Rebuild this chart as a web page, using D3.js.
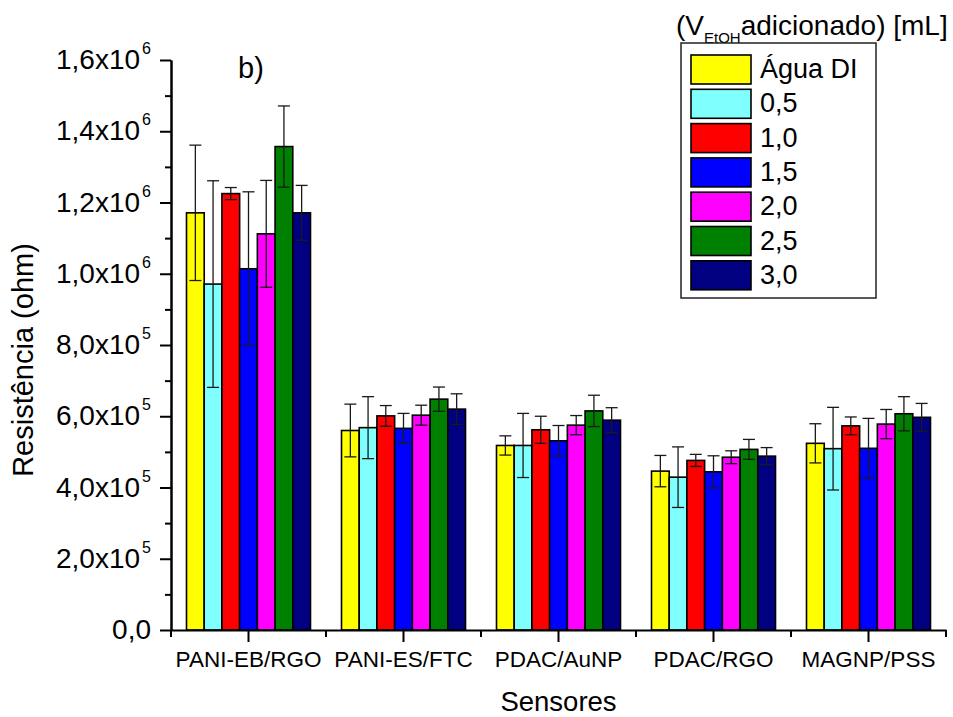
<!DOCTYPE html>
<html>
<head>
<meta charset="utf-8">
<script src="https://cdn.jsdelivr.net/npm/d3@7/dist/d3.min.js"></script>
<style>
  html, body { margin: 0; padding: 0; background: #fff; }
  svg, svg text { font-family: Arial, "Liberation Sans", Helvetica, sans-serif; }
  svg { display: block; }
</style>
</head>
<body>
<svg id="chart" width="953" height="717"></svg>
<script>
// Sensor groups on the x axis
const sensors = ["PANI-EB/RGO", "PANI-ES/FTC", "PDAC/AuNP", "PDAC/RGO", "MAGNP/PSS"];

// Added ethanol volume (legend entries)
const volumes = ["Água DI", "0,5", "1,0", "1,5", "2,0", "2,5", "3,0"];
const volumeColors = ["#ffff00", "#80ffff", "#ff0000", "#0000ff", "#ff00ff", "#008000", "#000080"];

// Mean resistance (ohm) per sensor, one array per volume
const aguaDI = [1.171e6, 0.560e6, 0.518e6, 0.446e6, 0.524e6];
const v05    = [0.971e6, 0.568e6, 0.518e6, 0.429e6, 0.509e6];
const v10    = [1.225e6, 0.601e6, 0.562e6, 0.476e6, 0.573e6];
const v15    = [1.014e6, 0.566e6, 0.531e6, 0.444e6, 0.510e6];
const v20    = [1.112e6, 0.603e6, 0.575e6, 0.485e6, 0.578e6];
const v25    = [1.357e6, 0.648e6, 0.615e6, 0.507e6, 0.607e6];
const v30    = [1.171e6, 0.620e6, 0.589e6, 0.488e6, 0.597e6];

// Standard deviation (ohm) per sensor, one array per volume
const aguaDIErr = [0.190e6, 0.074e6, 0.027e6, 0.044e6, 0.055e6];
const v05Err    = [0.290e6, 0.087e6, 0.090e6, 0.085e6, 0.116e6];
const v10Err    = [0.017e6, 0.029e6, 0.038e6, 0.017e6, 0.025e6];
const v15Err    = [0.216e6, 0.042e6, 0.043e6, 0.045e6, 0.084e6];
const v20Err    = [0.150e6, 0.028e6, 0.027e6, 0.018e6, 0.041e6];
const v25Err    = [0.114e6, 0.034e6, 0.044e6, 0.028e6, 0.048e6];
const v30Err    = [0.077e6, 0.043e6, 0.035e6, 0.024e6, 0.039e6];

// Y axis ticks (major labelled, minor unlabelled)
const yMajorTicks = [0, 2e5, 4e5, 6e5, 8e5, 1.0e6, 1.2e6, 1.4e6, 1.6e6];
const yMinorTicks = [1e5, 3e5, 5e5, 7e5, 9e5, 1.1e6, 1.3e6, 1.5e6];

const seriesValues = [aguaDI, v05, v10, v15, v20, v25, v30];
const seriesErrors = [aguaDIErr, v05Err, v10Err, v15Err, v20Err, v25Err, v30Err];

const rows = [];
sensors.forEach((s, i) => {
  volumes.forEach((v, j) => {
    rows.push({ sensor: s, volume: v, value: seriesValues[j][i], err: seriesErrors[j][i], color: volumeColors[j] });
  });
});

const svg = d3.select("#chart").attr("font-family", "Arial, 'Liberation Sans', Helvetica, sans-serif");
const plotLeft = 171, plotRight = 946, plotTop = 60, plotBottom = 630;

const x0 = d3.scaleBand().domain(sensors).range([plotLeft, plotRight]).padding(0);
const bw = x0.bandwidth();
const x1 = d3.scaleBand().domain(volumes).range([bw * 0.1, bw * 0.9]).padding(0);
const y = d3.scaleLinear().domain([0, 1.6e6]).range([plotBottom, plotTop]);

// Bars
const g = svg.append("g");
g.selectAll("rect.bar").data(rows).join("rect")
  .attr("class", "bar")
  .attr("x", d => x0(d.sensor) + x1(d.volume))
  .attr("y", d => y(d.value))
  .attr("width", x1.bandwidth())
  .attr("height", d => y(0) - y(d.value))
  .attr("fill", d => d.color)
  .attr("stroke", "#000")
  .attr("stroke-width", 1.6);

// Error bars
const capW = 12;
const cx = d => x0(d.sensor) + x1(d.volume) + x1.bandwidth() / 2;
const eb = g.selectAll("g.err").data(rows).join("g").attr("class", "err")
  .attr("stroke", "#1a1a1a").attr("stroke-width", 1.3);
eb.append("line")
  .attr("x1", cx).attr("x2", cx)
  .attr("y1", d => y(d.value + d.err))
  .attr("y2", d => y(d.value - d.err));
eb.append("line")
  .attr("x1", d => cx(d) - capW / 2).attr("x2", d => cx(d) + capW / 2)
  .attr("y1", d => y(d.value + d.err)).attr("y2", d => y(d.value + d.err));
eb.append("line")
  .attr("x1", d => cx(d) - capW / 2).attr("x2", d => cx(d) + capW / 2)
  .attr("y1", d => y(d.value - d.err)).attr("y2", d => y(d.value - d.err));

// Y axis
const yAxisMajor = svg.append("g").attr("transform", `translate(${plotLeft},0)`)
  .call(d3.axisLeft(y).tickValues(yMajorTicks).tickSize(11).tickSizeOuter(0).tickFormat(""));
const yAxisMinor = svg.append("g").attr("transform", `translate(${plotLeft},0)`)
  .call(d3.axisLeft(y).tickValues(yMinorTicks).tickSize(6).tickSizeOuter(0).tickFormat(""));
[yAxisMajor, yAxisMinor].forEach(a => {
  a.selectAll("path, line").attr("stroke", "#000").attr("stroke-width", 2);
});

// Y tick labels like "1,6x10^6"
const yLab = svg.append("g").attr("font-size", 28).attr("fill", "#000");
yMajorTicks.forEach(v => {
  const t = yLab.append("text").attr("text-anchor", "end")
    .attr("x", 151).attr("y", y(v) + 9);
  if (v === 0) {
    t.text("0,0");
    return;
  }
  const exp = Math.floor(Math.log10(v) + 1e-9);
  const mant = (v / Math.pow(10, exp)).toFixed(1).replace(".", ",");
  t.append("tspan").text(mant + "x10");
  t.append("tspan").attr("font-size", 16).attr("dx", 2).attr("dy", -15).text(exp);
});

// X axis
const xAxisMajor = svg.append("g").attr("transform", `translate(0,${plotBottom})`)
  .call(d3.axisBottom(x0).tickSize(12).tickSizeOuter(0).tickFormat(""));
const boundaries = sensors.map(s => x0(s)).concat([plotRight]);
const xAxisMinor = svg.append("g").attr("transform", `translate(0,${plotBottom})`);
xAxisMinor.selectAll("line").data(boundaries).join("line")
  .attr("x1", d => d).attr("x2", d => d).attr("y1", 0).attr("y2", 7);
[xAxisMajor, xAxisMinor].forEach(a => {
  a.selectAll("path, line").attr("stroke", "#000").attr("stroke-width", 2);
});

svg.append("g").attr("font-size", 22.5).attr("fill", "#000")
  .selectAll("text").data(sensors).join("text")
  .attr("x", d => x0(d) + bw / 2)
  .attr("y", 667)
  .attr("text-anchor", "middle")
  .text(d => d);

// Axis titles
svg.append("text").attr("x", (plotLeft + plotRight) / 2).attr("y", 711)
  .attr("text-anchor", "middle").attr("font-size", 27.5).text("Sensores");
svg.append("text")
  .attr("transform", "translate(33,360) rotate(-90)")
  .attr("text-anchor", "middle").attr("font-size", 29).text("Resistência (ohm)");

// Panel tag
svg.append("text").attr("x", 238).attr("y", 78).attr("font-size", 29).text("b)");

// Legend title
const lt = svg.append("text").attr("x", 676).attr("y", 35).attr("font-size", 28);
lt.append("tspan").text("(V");
lt.append("tspan").attr("font-size", 15).attr("dy", 8).text("EtOH");
lt.append("tspan").attr("dy", -8).text("adicionado) [mL]");

// Legend box
const legend = svg.append("g");
legend.append("rect").attr("x", 681).attr("y", 43).attr("width", 195).attr("height", 255)
  .attr("fill", "#fff").attr("stroke", "#222").attr("stroke-width", 1.5);
const item = legend.selectAll("g.item").data(volumes).join("g").attr("class", "item")
  .attr("transform", (d, i) => `translate(0,${55 + i * 34.3})`);
item.append("rect").attr("x", 691).attr("y", 0).attr("width", 60).attr("height", 29)
  .attr("fill", (d, i) => volumeColors[i]).attr("stroke", "#000").attr("stroke-width", 1.6);
item.append("text").attr("x", 760).attr("y", 23).attr("font-size", 27).text(d => d);
</script>
</body>
</html>
